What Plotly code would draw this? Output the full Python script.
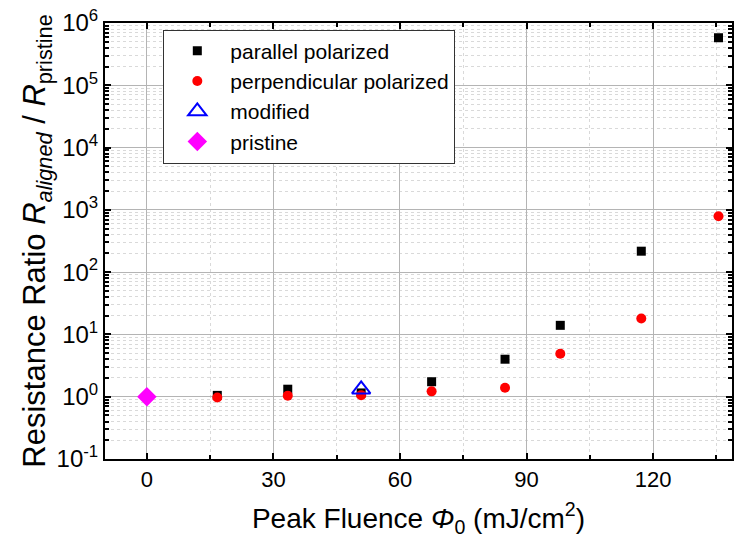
import plotly.graph_objects as go

# Peak fluence (mJ/cm^2) and resistance ratio R_aligned / R_pristine
fluence_parallel = [16.7, 33.4, 50.8, 67.5, 84.9, 98.0, 117.2, 135.5]
ratio_parallel = [1.05, 1.32, 1.15, 1.74, 4.0, 14.0, 217, 5.8e5]

fluence_perpendicular = [16.7, 33.4, 50.8, 67.5, 84.9, 98.0, 117.2, 135.5]
ratio_perpendicular = [0.97, 1.04, 1.06, 1.22, 1.39, 4.9, 18.0, 790]

fluence_modified = [50.8]
ratio_modified = [1.31]

fluence_pristine = [0]
ratio_pristine = [1.0]

x_ticks = [0, 30, 60, 90, 120]
y_exponents = [-1, 0, 1, 2, 3, 4, 5, 6]

FONT = "Liberation Sans, Arial, sans-serif"

fig = go.Figure()
fig.add_trace(go.Scatter(
    x=fluence_parallel, y=ratio_parallel, mode="markers",
    name="parallel polarized",
    marker=dict(symbol="square", size=9, color="black")))
fig.add_trace(go.Scatter(
    x=fluence_perpendicular, y=ratio_perpendicular, mode="markers",
    name="perpendicular polarized",
    marker=dict(symbol="circle", size=10, color="#ff0000")))
fig.add_trace(go.Scatter(
    x=fluence_modified, y=ratio_modified, mode="markers",
    name="modified",
    marker=dict(symbol="triangle-up-open", size=16, color="#0000ff",
                line=dict(width=2, color="#0000ff"))))
fig.add_trace(go.Scatter(
    x=fluence_pristine, y=ratio_pristine, mode="markers",
    name="pristine",
    marker=dict(symbol="diamond", size=15, color="#ff00ff")))

y_minor = [k * 10.0 ** e for e in range(-1, 6) for k in range(2, 10)]

fig.update_layout(
    width=734, height=541,
    margin=dict(l=105, r=0, t=23, b=82),
    plot_bgcolor="white", paper_bgcolor="white",
    font=dict(family=FONT, color="black"),
    showlegend=True,
    legend=dict(
        x=0.093, y=0.985, xanchor="left", yanchor="top",
        bgcolor="white", bordercolor="#333333", borderwidth=1,
        font=dict(size=21, family=FONT), itemwidth=56,
        tracegroupgap=0, itemsizing="trace"),
    xaxis=dict(
        range=[-9.92, 138.7],
        tickmode="array", tickvals=x_ticks,
        ticktext=[str(v) for v in x_ticks],
        ticks="inside", ticklen=6, tickwidth=1.5, tickcolor="black",
        tickfont=dict(size=22, family=FONT),
        showline=True, linecolor="black", linewidth=2, mirror="allticks",
        showgrid=True, gridcolor="#b4b4b4", gridwidth=1,
        zeroline=False,
        minor=dict(dtick=15, ticks="inside", ticklen=4, tickcolor="black",
                   showgrid=True, gridcolor="#d9d9d9", griddash="dot"),
        title=dict(
            text="Peak Fluence <i>Φ</i><sub>0</sub> (mJ/cm<sup>2</sup>)",
            font=dict(size=28, family=FONT), standoff=17),
    ),
    yaxis=dict(
        type="log", range=[-1, 6],
        tickmode="array", tickvals=[10.0 ** e for e in y_exponents],
        ticktext=[f"10<sup>{e}</sup>" for e in y_exponents],
        ticks="inside", ticklen=6, tickwidth=1.5, tickcolor="black",
        tickfont=dict(size=24, family=FONT),
        showline=True, linecolor="black", linewidth=2, mirror="allticks",
        showgrid=True, gridcolor="#b4b4b4", gridwidth=1,
        zeroline=False,
        minor=dict(tickmode="array", tickvals=y_minor, ticks="inside",
                   ticklen=4, tickcolor="black",
                   showgrid=True, gridcolor="#d9d9d9", griddash="dot"),
        title=dict(
            text="Resistance Ratio <i>R</i><sub><i>aligned</i></sub> / <i>R</i><sub>pristine</sub>",
            font=dict(size=31, family=FONT), standoff=0),
    ),
)

fig.write_html("out.html")
